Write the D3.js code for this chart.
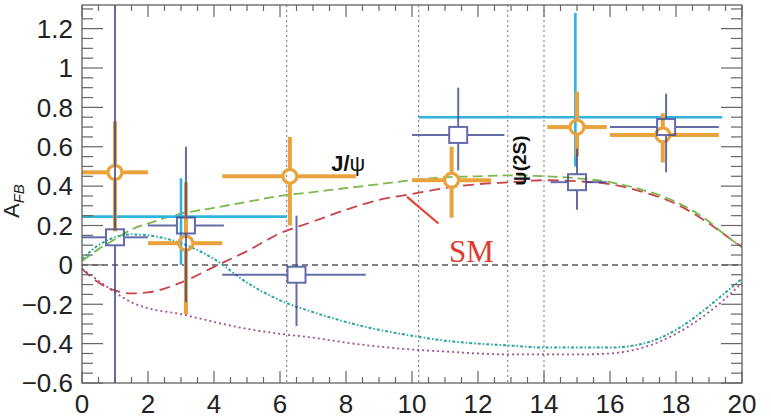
<!DOCTYPE html>
<html>
<head>
<meta charset="utf-8">
<script src="https://cdn.jsdelivr.net/npm/d3@7"></script>
<style>
  body { margin: 0; background: #fff; }
  svg { display: block; font-family: "Liberation Sans", Arial, sans-serif; }
</style>
</head>
<body>
<div id="chart"></div>
<script>
// Axis ticks
const xTicks = [0, 2, 4, 6, 8, 10, 12, 14, 16, 18, 20];
const yTicks = [-0.6, -0.4, -0.2, 0, 0.2, 0.4, 0.6, 0.8, 1, 1.2];

// Orange data set (open circles)
const orangeX   = [1.0, 3.15, 6.3, 11.2, 15.0, 17.6];
const orangeY   = [0.47, 0.11, 0.45, 0.43, 0.70, 0.66];
const orangeXlo = [0.0, 2.0, 4.25, 10.0, 14.1, 16.0];
const orangeXhi = [2.0, 4.25, 8.3, 12.4, 15.9, 19.3];
const orangeYlo = [0.17, -0.25, 0.20, 0.24, 0.55, 0.52];
const orangeYhi = [0.73, 0.42, 0.65, 0.60, 0.88, 0.77];

// Dark blue data set (open squares)
const blueX   = [1.0, 3.15, 6.5, 11.4, 15.0, 17.7];
const blueY   = [0.14, 0.20, -0.05, 0.66, 0.42, 0.70];
const blueXlo = [0.0, 2.0, 4.25, 10.0, 14.2, 16.0];
const blueXhi = [2.0, 4.3, 8.6, 12.8, 15.9, 19.3];
const blueYlo = [-0.7, -0.19, -0.31, 0.48, 0.28, 0.47];
const blueYhi = [1.5, 0.60, 0.25, 0.90, 0.59, 0.87];

// Cyan data set (wide bins, no marker)
const cyanX   = [3.0, 14.95];
const cyanY   = [0.245, 0.75];
const cyanXlo = [0.0, 10.2];
const cyanXhi = [6.2, 19.4];
const cyanYlo = [0.0, 0.50];
const cyanYhi = [0.44, 1.28];

// Theory curves
const curveX  = [0, 0.5, 1, 1.5, 2, 3, 4, 5, 6, 7, 8, 9, 10, 11, 12, 13, 14, 15, 16, 17, 18, 19, 19.5, 20];
const greenY  = [0.02, 0.08, 0.13, 0.18, 0.21, 0.26, 0.29, 0.32, 0.35, 0.37, 0.39, 0.41, 0.43, 0.445, 0.45, 0.455, 0.45, 0.44, 0.42, 0.38, 0.32, 0.22, 0.15, 0.09];
const redY    = [-0.02, -0.09, -0.13, -0.145, -0.14, -0.09, -0.01, 0.07, 0.16, 0.22, 0.28, 0.33, 0.36, 0.39, 0.41, 0.42, 0.43, 0.425, 0.41, 0.37, 0.31, 0.21, 0.15, 0.09];
const tealY   = [0.03, 0.10, 0.14, 0.155, 0.15, 0.11, 0.03, -0.09, -0.18, -0.24, -0.29, -0.33, -0.36, -0.385, -0.40, -0.41, -0.42, -0.42, -0.42, -0.40, -0.33, -0.21, -0.14, -0.07];
const purpleY = [-0.02, -0.08, -0.14, -0.19, -0.22, -0.25, -0.29, -0.325, -0.35, -0.37, -0.395, -0.415, -0.43, -0.44, -0.45, -0.455, -0.455, -0.455, -0.45, -0.42, -0.35, -0.24, -0.17, -0.09];

// Resonance veto lines
const vetoX = [6.2, 10.2, 12.9, 14.0];

const margin = { top: 5, right: 29, bottom: 35, left: 82 };
const W = 771, H = 418;
const width = W - margin.left - margin.right;
const height = H - margin.top - margin.bottom;

const svg = d3.select("#chart").append("svg")
    .attr("width", W)
    .attr("height", H);

const g = svg.append("g")
    .attr("transform", `translate(${margin.left},${margin.top})`);

const x = d3.scaleLinear().domain([0, 20]).range([0, width]);
const y = d3.scaleLinear().domain([-0.6, 1.32]).range([height, 0]);

g.append("clipPath").attr("id", "clip")
  .append("rect").attr("width", width).attr("height", height);

const plot = g.append("g").attr("clip-path", "url(#clip)");

// vertical dotted lines
plot.selectAll(".veto")
    .data(vetoX)
    .enter().append("line")
    .attr("x1", d => x(d)).attr("x2", d => x(d))
    .attr("y1", 0).attr("y2", height)
    .attr("stroke", "#8a8a8a")
    .attr("stroke-width", 1.2)
    .attr("stroke-dasharray", "2,3");

// zero line
plot.append("line")
    .attr("x1", 0).attr("x2", width)
    .attr("y1", y(0)).attr("y2", y(0))
    .attr("stroke", "#555")
    .attr("stroke-width", 1.5)
    .attr("stroke-dasharray", "6,4");

// curves
const line = d3.line().curve(d3.curveMonotoneX);
function drawCurve(ys, color, dash, w) {
    plot.append("path")
        .attr("d", line(curveX.map((d, i) => [x(d), y(ys[i])])))
        .attr("fill", "none")
        .attr("stroke", color)
        .attr("stroke-width", w)
        .attr("stroke-dasharray", dash);
}
drawCurve(purpleY, "#a8508c", "2,3", 1.8);
drawCurve(tealY, "#2aa6a0", "3,2,1.5,2", 2);
drawCurve(redY, "#c9434a", "11,6", 1.8);
drawCurve(greenY, "#7cb84c", "10,5", 1.8);

// error bars, gap around the marker
function drawSeries(xs, ys, xlo, xhi, ylo, yhi, color, w, gx, gy, opacity) {
    const s = plot.append("g").attr("opacity", opacity);
    xs.forEach((d, i) => {
        const cx = x(d), cy = y(ys[i]);
        const segs = [
            [x(xlo[i]), cy, cx - gx, cy],
            [cx + gx, cy, x(xhi[i]), cy],
            [cx, y(yhi[i]), cx, cy - gy],
            [cx, cy + gy, cx, y(ylo[i])]
        ];
        segs.forEach(p => {
            s.append("line")
                .attr("x1", p[0]).attr("y1", p[1])
                .attr("x2", p[2]).attr("y2", p[3])
                .attr("stroke", color)
                .attr("stroke-width", w);
        });
    });
    return s;
}

// cyan bins
drawSeries(cyanX, cyanY, cyanXlo, cyanXhi, cyanYlo, cyanYhi, "#2fb4de", 2.6, 0, 0, 1);

// orange circles
const og = drawSeries(orangeX, orangeY, orangeXlo, orangeXhi, orangeYlo, orangeYhi, "#eaa33c", 4, 8, 8, 1);
og.selectAll("circle")
    .data(orangeX)
    .enter().append("circle")
    .attr("cx", d => x(d))
    .attr("cy", (d, i) => y(orangeY[i]))
    .attr("r", 7)
    .attr("fill", "none")
    .attr("stroke", "#eaa33c")
    .attr("stroke-width", 3.2);

// blue squares
const bg = drawSeries(blueX, blueY, blueXlo, blueXhi, blueYlo, blueYhi, "#3e4895", 2, 9, 8, 0.8);
bg.selectAll("rect")
    .data(blueX)
    .enter().append("rect")
    .attr("x", d => x(d) - 9)
    .attr("y", (d, i) => y(blueY[i]) - 8)
    .attr("width", 18)
    .attr("height", 16)
    .attr("fill", "none")
    .attr("stroke", "#3e4895")
    .attr("stroke-width", 2);

// annotations
const jpsi = g.append("text")
    .attr("x", x(7.55)).attr("y", y(0.475))
    .attr("font-size", 22)
    .attr("fill", "#111");
jpsi.append("tspan").attr("font-weight", "bold").text("J/");
jpsi.append("tspan").text("ψ");

g.append("text")
    .attr("transform", `translate(${x(13.25)},${y(0.53)}) rotate(-90)`)
    .attr("text-anchor", "middle")
    .attr("dy", "0.35em")
    .attr("font-size", 19)
    .attr("font-weight", "bold")
    .attr("fill", "#111")
    .text("ψ(2S)");

g.append("line")
    .attr("x1", x(9.85)).attr("y1", y(0.345))
    .attr("x2", x(10.8)).attr("y2", y(0.21))
    .attr("stroke", "#e5432f")
    .attr("stroke-width", 2.2);

g.append("text")
    .attr("x", x(11.8)).attr("y", y(0.015))
    .attr("text-anchor", "middle")
    .attr("font-family", "'Liberation Serif', 'Times New Roman', serif")
    .attr("font-size", 31)
    .attr("fill", "#e0392e")
    .text("SM");

// frame
g.append("rect")
    .attr("width", width).attr("height", height)
    .attr("fill", "none")
    .attr("stroke", "#555")
    .attr("stroke-width", 1.2);

// ticks, all pointing inward
const tickColor = "#666";
const yMinor = d3.range(-0.6, 1.3201, 0.05);
const xMinor = d3.range(0, 20.001, 0.5);
const isMajorY = v => Math.abs(v * 5 - Math.round(v * 5)) < 1e-6;
const isMajorX = v => Math.abs(v / 2 - Math.round(v / 2)) < 1e-6;

const ticks = g.append("g").attr("stroke", tickColor).attr("stroke-width", 1.2);
yMinor.forEach(v => {
    const len = isMajorY(v) ? 21 : 11;
    ticks.append("line").attr("x1", 0).attr("x2", len).attr("y1", y(v)).attr("y2", y(v));
    ticks.append("line").attr("x1", width).attr("x2", width - len).attr("y1", y(v)).attr("y2", y(v));
});
xMinor.forEach(v => {
    const len = isMajorX(v) ? 12 : 6;
    ticks.append("line").attr("x1", x(v)).attr("x2", x(v)).attr("y1", height).attr("y2", height - len);
    ticks.append("line").attr("x1", x(v)).attr("x2", x(v)).attr("y1", 0).attr("y2", len);
});

// tick labels
const fmt = v => (v < 0 ? "\u2212" : "") + String(Math.abs(+v.toFixed(1)));
g.selectAll(".ylab")
    .data(yTicks)
    .enter().append("text")
    .attr("x", -9)
    .attr("y", d => y(d))
    .attr("dy", "0.36em")
    .attr("text-anchor", "end")
    .attr("font-size", 26)
    .attr("fill", "#222")
    .text(fmt);

g.selectAll(".xlab")
    .data(xTicks)
    .enter().append("text")
    .attr("x", d => x(d))
    .attr("y", height + 30)
    .attr("text-anchor", "middle")
    .attr("font-size", 26)
    .attr("fill", "#222")
    .text(d => d);

// y axis title
const yt = svg.append("text")
    .attr("transform", "translate(19,218) rotate(-90)")
    .attr("font-size", 22)
    .attr("fill", "#222");
yt.append("tspan").text("A");
yt.append("tspan")
    .attr("font-size", 15)
    .attr("font-style", "italic")
    .attr("dy", 5)
    .text("FB");
</script>
</body>
</html>
